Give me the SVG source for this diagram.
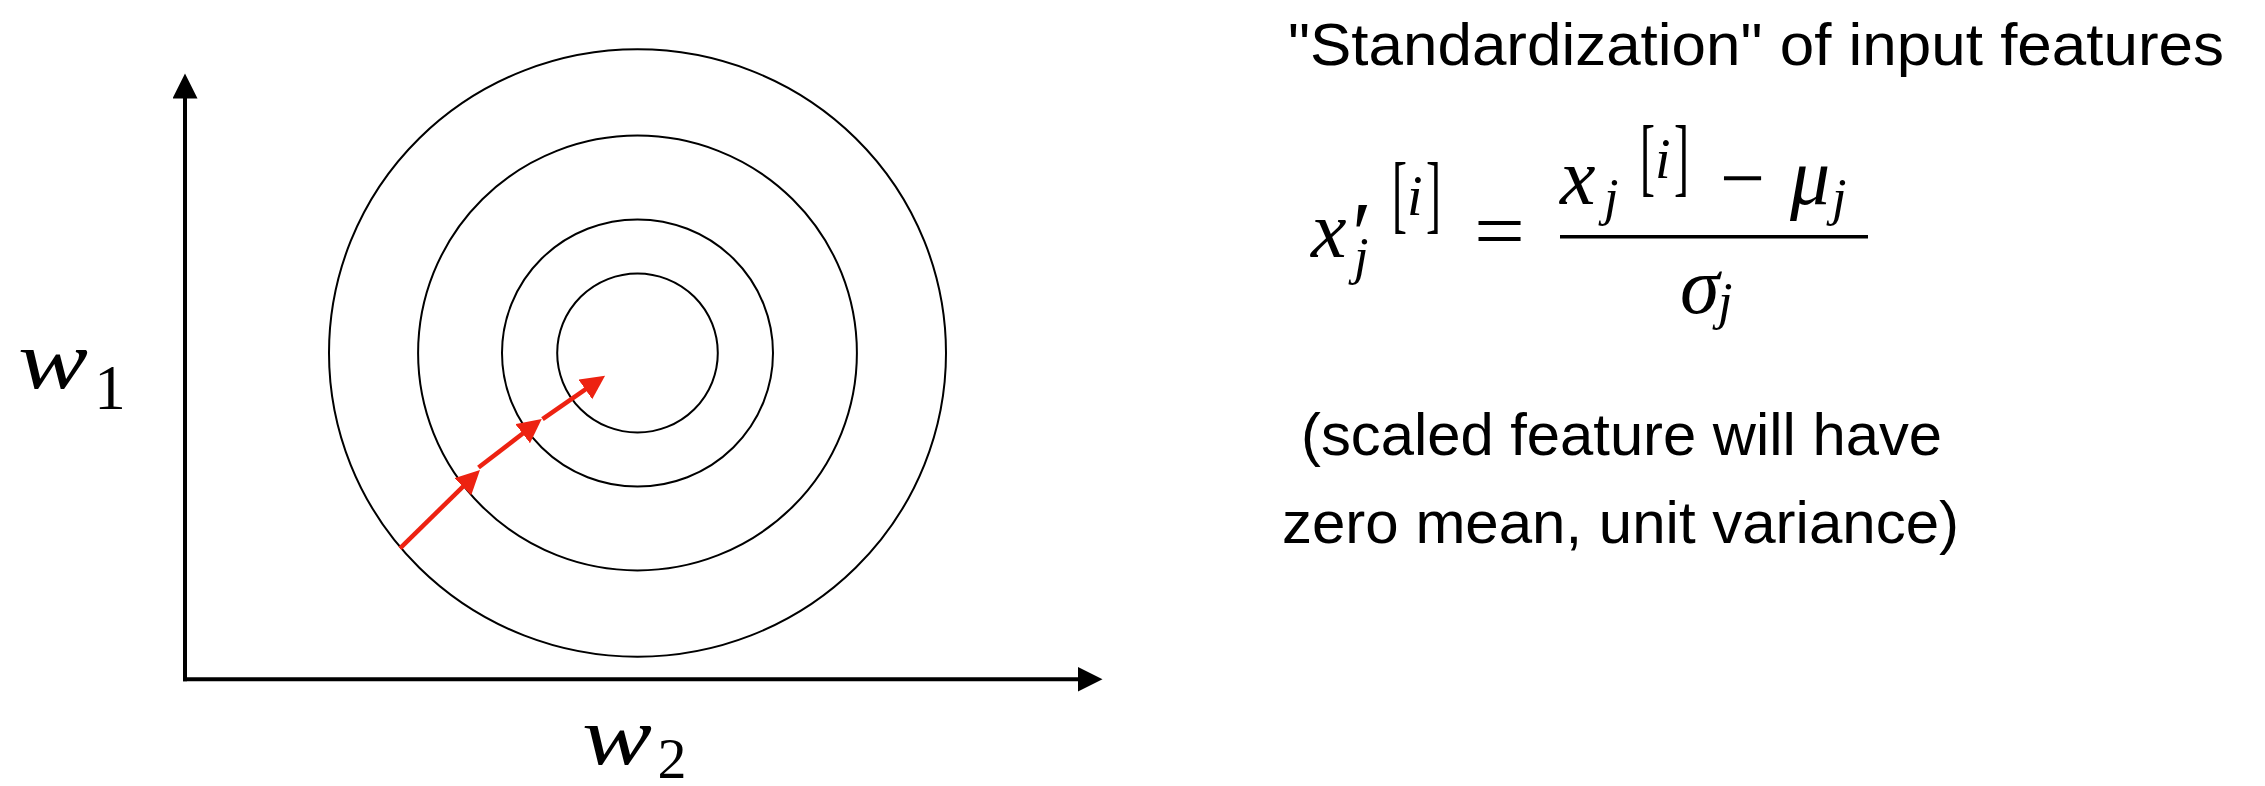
<svg xmlns="http://www.w3.org/2000/svg" width="2265" height="786" viewBox="0 0 2265 786">
<style>
.ctr{fill:none;stroke:#000;stroke-width:2}
.axis{fill:none;stroke:#000;stroke-width:4}
.step{fill:none;stroke:#ED2211;stroke-width:4.5}
.m{font-family:"Liberation Serif",serif;font-style:italic;fill:#000}
.r{font-family:"Liberation Serif",serif;font-style:normal;fill:#000}
.s{font-family:"Liberation Sans",Arial,sans-serif;fill:#000}
</style>
<defs>
<marker id="ah" markerUnits="userSpaceOnUse" markerWidth="26" markerHeight="26" refX="1" refY="12.5" orient="auto" viewBox="0 0 26 26">
<path d="M0,0 L25,12.5 L0,25 z" fill="#000"/>
</marker>
<marker id="rh" markerUnits="userSpaceOnUse" markerWidth="25" markerHeight="25" refX="12" refY="12" orient="auto" viewBox="0 0 25 25">
<path d="M0,0 L24,12 L0,24 z" fill="#ED2211"/>
</marker>
</defs>
<rect width="2265" height="786" fill="#fff"/>
<g id="contours">
<ellipse class="ctr" cx="637.5" cy="353" rx="308.5" ry="303.7"/>
<ellipse class="ctr" cx="637.5" cy="353" rx="219.4" ry="217.4"/>
<ellipse class="ctr" cx="637.5" cy="353" rx="135.5" ry="133.6"/>
<ellipse class="ctr" cx="637.5" cy="353" rx="80.3" ry="79.5"/>
</g>
<g id="connectors">
<line class="axis" x1="185" y1="681.3" x2="185" y2="97.5" marker-end="url(#ah)"/>
<line class="axis" x1="183" y1="679.3" x2="1078.5" y2="679.3" marker-end="url(#ah)"/>
<line class="step" x1="400" y1="548.3" x2="471.4" y2="478.4" marker-end="url(#rh)"/>
<line class="step" x1="478.5" y1="467.5" x2="532.2" y2="426.3" marker-end="url(#rh)"/>
<line class="step" x1="542.5" y1="419.2" x2="595.2" y2="382.6" marker-end="url(#rh)"/>
</g>
<g id="label-w1">
<text class="m" x="18" y="388.3" font-size="82" textLength="70" lengthAdjust="spacingAndGlyphs">w</text>
<text class="r" x="110" y="409.3" font-size="63" text-anchor="middle">1</text>
</g>
<g id="label-w2">
<text class="m" x="582" y="764" font-size="82" textLength="70" lengthAdjust="spacingAndGlyphs">w</text>
<text class="r" x="672" y="778" font-size="58" text-anchor="middle">2</text>
</g>
<g id="title">
<text class="s" x="1288" y="65" font-size="60" textLength="936" lengthAdjust="spacingAndGlyphs">"Standardization" of input features</text>
</g>
<g id="formula">
<text class="m" x="1311" y="256.7" font-size="80">x</text>
<text class="r" x="1352" y="265" font-size="90">′</text>
<text class="m" x="1354" y="274" font-size="52">j</text>
<text class="r" y="222" font-size="86"><tspan x="1392" textLength="15" lengthAdjust="spacingAndGlyphs">[</tspan><tspan x="1407" y="215" font-size="56" font-style="italic">i</tspan><tspan x="1426" y="222" textLength="15" lengthAdjust="spacingAndGlyphs">]</tspan></text>
<text class="r" x="1474" y="258" font-size="80" textLength="51" lengthAdjust="spacingAndGlyphs">=</text>
<text class="m" x="1560" y="204" font-size="80">x</text>
<text class="m" x="1604" y="215" font-size="52">j</text>
<text class="r" y="185" font-size="86"><tspan x="1640" textLength="15" lengthAdjust="spacingAndGlyphs">[</tspan><tspan x="1655" y="178" font-size="56" font-style="italic">i</tspan><tspan x="1674" y="185" textLength="15" lengthAdjust="spacingAndGlyphs">]</tspan></text>
<text class="r" x="1720" y="205" font-size="80" textLength="45" lengthAdjust="spacingAndGlyphs">−</text>
<text class="m" x="1790" y="204" font-size="80">μ</text>
<text class="m" x="1832" y="215" font-size="52">j</text>
<line x1="1560" y1="236.7" x2="1868" y2="236.7" stroke="#000" stroke-width="3.5"/>
<text class="m" x="1680" y="313.3" font-size="80">σ</text>
<text class="m" x="1718" y="319" font-size="52">j</text>
</g>
<g id="note">
<text class="s" x="1301" y="455" font-size="60" textLength="641" lengthAdjust="spacingAndGlyphs">(scaled feature will have</text>
<text class="s" x="1282" y="543" font-size="60" textLength="677" lengthAdjust="spacingAndGlyphs">zero mean, unit variance)</text>
</g>
</svg>
